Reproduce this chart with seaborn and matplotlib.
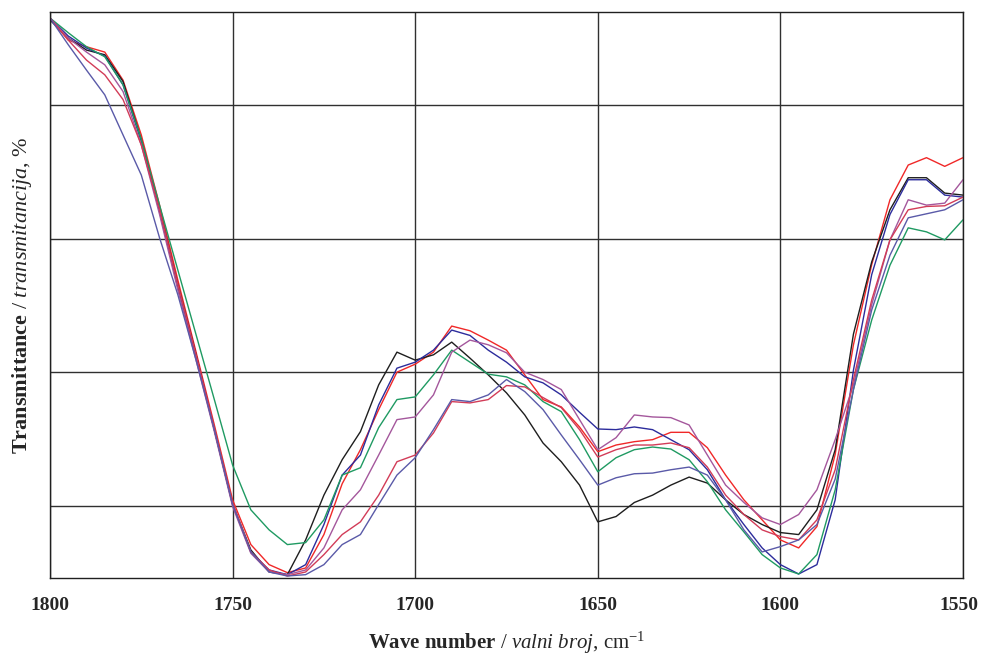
import numpy as np
import pandas as pd
import matplotlib
matplotlib.use("Agg")
import matplotlib.pyplot as plt
import matplotlib.transforms as mtransforms
import seaborn as sns

# wave numbers (cm-1), read every 5 units from the plot
wavenumber = [1800, 1795, 1790, 1785, 1780, 1775, 1770, 1765, 1760, 1755,
              1750, 1745, 1740, 1735, 1730, 1725, 1720, 1715, 1710, 1705,
              1700, 1695, 1690, 1685, 1680, 1675, 1670, 1665, 1660, 1655,
              1650, 1645, 1640, 1635, 1630, 1625, 1620, 1615, 1610, 1605,
              1600, 1595, 1590, 1585, 1580, 1575, 1570, 1565, 1560, 1555,
              1550]

# transmittance (%) for each spectrum
red = [93.0, 89.7, 88.7, 87.9, 83.7, 75.5, 65.0, 53.8, 43.0, 32.1,
       20.9, 14.2, 11.2, 10.0, 10.7, 15.7, 23.3, 28.4, 34.4, 40.0,
       41.2, 43.0, 46.9, 46.2, 44.8, 43.3, 39.6, 35.9, 34.8, 31.8,
       28.1, 29.1, 29.6, 29.9, 31.0, 31.0, 28.7, 24.6, 20.9, 17.9,
       14.9, 13.7, 16.9, 27.7, 44.1, 56.1, 65.8, 71.0, 72.1, 70.8,
       72.1]
black = [92.7, 90.0, 88.2, 87.5, 83.5, 74.8, 64.3, 53.1, 42.6, 31.4,
         20.2, 13.4, 10.1, 9.7, 14.9, 21.6, 26.9, 31.1, 38.1, 43.0,
         41.8, 42.6, 44.5, 42.1, 39.6, 36.9, 33.6, 29.4, 26.6, 23.1,
         17.6, 18.4, 20.5, 21.6, 23.1, 24.3, 23.4, 20.9, 18.7, 17.2,
         16.0, 15.7, 19.4, 28.4, 45.7, 56.5, 64.3, 69.1, 69.1, 66.8,
         66.5]
navy = [93.0, 90.3, 88.5, 87.3, 83.0, 74.5, 64.0, 52.8, 42.3, 31.4,
        20.2, 13.1, 10.4, 9.7, 11.2, 17.2, 24.6, 27.6, 35.1, 40.6,
        41.5, 43.3, 46.3, 45.5, 43.3, 41.5, 39.3, 38.4, 36.6, 34.0,
        31.5, 31.4, 31.8, 31.4, 29.9, 28.4, 25.4, 20.9, 17.2, 13.7,
        11.2, 9.8, 11.2, 20.9, 40.3, 54.6, 63.6, 68.8, 68.8, 66.5,
        66.2]
green = [93.0, 90.8, 88.7, 87.2, 83.0, 74.8, 65.0, 55.3, 45.6, 35.9,
         26.1, 19.4, 16.4, 14.2, 14.5, 17.9, 24.6, 25.7, 31.7, 35.9,
         36.3, 39.6, 43.3, 41.5, 39.7, 39.3, 38.1, 35.6, 34.1, 29.9,
         25.1, 27.2, 28.4, 28.8, 28.5, 26.9, 23.6, 19.4, 16.1, 12.7,
         10.7, 9.8, 12.7, 22.4, 37.4, 47.8, 56.0, 61.6, 61.0, 59.8,
         62.8]
mauve = [93.0, 90.0, 87.9, 86.0, 82.0, 74.0, 63.6, 52.3, 41.8, 31.1,
         19.9, 12.9, 10.1, 9.7, 10.4, 13.7, 19.4, 22.4, 27.6, 32.9,
         33.3, 36.6, 43.0, 44.8, 44.1, 42.9, 40.0, 38.9, 37.4, 32.9,
         28.4, 30.2, 33.6, 33.3, 33.2, 32.1, 27.6, 23.1, 20.5, 18.2,
         17.2, 18.7, 22.4, 29.9, 38.1, 50.1, 59.8, 65.8, 65.0, 65.3,
         68.8]
crimson = [93.0, 89.7, 86.7, 84.5, 80.8, 74.0, 64.3, 53.1, 42.6, 31.7,
           20.5, 13.1, 10.4, 9.5, 10.1, 12.7, 15.7, 17.6, 21.6, 26.6,
           27.6, 30.9, 35.6, 35.4, 35.9, 38.0, 37.8, 36.2, 34.7, 31.4,
           27.3, 28.4, 29.1, 29.1, 29.4, 28.7, 25.8, 21.6, 18.7, 16.4,
           15.4, 14.9, 17.9, 25.4, 38.9, 50.8, 59.8, 64.3, 64.8, 64.9,
           66.2]
slate = [93.0, 89.0, 85.2, 81.5, 75.5, 69.5, 60.1, 51.6, 41.8, 31.4,
         20.2, 13.1, 10.1, 9.5, 9.7, 11.2, 14.2, 15.7, 20.2, 24.6,
         27.2, 31.4, 35.9, 35.6, 36.6, 38.9, 37.1, 34.4, 30.6, 26.9,
         23.1, 24.2, 24.8, 24.9, 25.4, 25.8, 24.6, 20.9, 16.4, 13.1,
         13.9, 14.9, 17.2, 24.0, 37.4, 49.3, 57.5, 63.1, 63.7, 64.3,
         65.8]

series = {"red": red, "black": black, "navy": navy, "green": green,
          "mauve": mauve, "crimson": crimson, "slate": slate}
palette = {"red": "#f02828", "black": "#1e1e1e", "navy": "#2c2c9c",
           "green": "#1f9a62", "mauve": "#a4579c", "crimson": "#d23c58",
           "slate": "#5a5aa8"}

df = pd.concat([pd.DataFrame({"wn": wavenumber, "T": v, "sample": k})
                for k, v in series.items()], ignore_index=True)

sns.set_style("white")
plt.rcParams["font.family"] = ["Liberation Serif", "DejaVu Serif"]
plt.rcParams["mathtext.fontset"] = "custom"
plt.rcParams["mathtext.rm"] = "Liberation Serif"
plt.rcParams["mathtext.it"] = "Liberation Serif:italic"
plt.rcParams["mathtext.bf"] = "Liberation Serif:bold"

fig = plt.figure(figsize=(9.81, 6.61), dpi=100)
ax = fig.add_axes([50 / 981, 1 - 578 / 661, 913 / 981, 566 / 661])

sns.lineplot(data=df, x="wn", y="T", hue="sample", palette=palette,
             linewidth=1.0, legend=False, ax=ax, sort=False)

ax.set_xlim(1800, 1550)
ax.set_ylim(9.2, 93.9)
ax.set_xticks([1800, 1750, 1700, 1650, 1600, 1550])
ax.set_yticks([20, 40, 60, 80])
ax.set_yticklabels([])
ax.grid(True, color="#303030", linewidth=1.0)
ax.set_axisbelow(True)
for s in ax.spines.values():
    s.set_color("#202020")
    s.set_linewidth(1.0)
ax.tick_params(axis="both", length=0)
ax.tick_params(axis="x", pad=14, labelsize=14)
for lab in ax.get_xticklabels():
    lab.set_fontweight("bold")
# nudge the last label so it stays inside the figure
last = ax.get_xticklabels()[-1]
last.set_transform(last.get_transform() +
                   mtransforms.ScaledTranslation(-4 / 100, 0, fig.dpi_scale_trans))

ax.set_xlabel(r"$\mathbf{Wave\ number}$ / $\mathit{valni\ broj}$, cm$^{\mathrm{-1}}$",
              fontsize=15, labelpad=11)
ax.set_ylabel(r"$\mathbf{Transmittance}$ / $\mathit{transmitancija}$, %",
              fontsize=16, labelpad=8)

fig.savefig("out.png", dpi=100)
